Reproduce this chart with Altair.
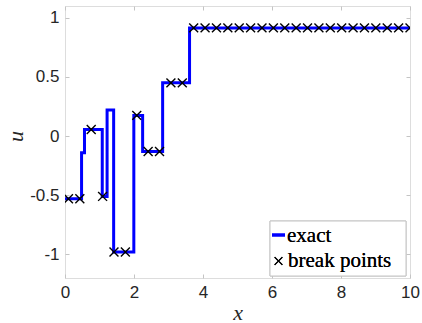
import altair as alt
import pandas as pd

# exact solution: piecewise-constant u(x); each value holds from its x to the next x
step_x = [0.0, 0.48, 0.565, 1.08, 1.22, 1.41, 1.995, 2.25, 2.83, 3.61, 10.0]
step_u = [-0.53, -0.14, 0.055, -0.51, 0.22, -0.98, 0.175, -0.13, 0.45, 0.915, 0.915]

# break points
break_x = [0.10, 0.43, 0.76, 1.09, 1.42, 1.75, 2.08, 2.41, 2.74, 3.07, 3.40,
           3.73, 4.06, 4.39, 4.72, 5.05, 5.38, 5.71, 6.04, 6.37, 6.70, 7.03,
           7.36, 7.69, 8.02, 8.35, 8.68, 9.01, 9.34, 9.67, 10.00]
break_u = [-0.53, -0.53, 0.055, -0.51, -0.98, -0.98, 0.175, -0.13, -0.13, 0.45, 0.45,
           0.915, 0.915, 0.915, 0.915, 0.915, 0.915, 0.915, 0.915, 0.915, 0.915, 0.915,
           0.915, 0.915, 0.915, 0.915, 0.915, 0.915, 0.915, 0.915, 0.915]

x_ticks = [0, 2, 4, 6, 8, 10]
y_ticks = [-1, -0.5, 0, 0.5, 1]
x_domain = [0, 10]
y_domain = [-1.2, 1.1]
legend_labels = ["exact", "break points"]

steps = pd.DataFrame({"x": step_x, "u": step_u})
breaks = pd.DataFrame({"x": break_x, "u": break_u})

W, H = 345, 272
GRAY = "#c4c4c4"
DARK = "#262626"
CROSS = "M-1,-1L1,1M-1,1L1,-1"

xs = alt.Scale(domain=x_domain, nice=False, zero=False)
ys = alt.Scale(domain=y_domain, nice=False, zero=False)

main_x_axis = alt.Axis(values=x_ticks, orient="bottom", ticks=False, domain=False, grid=False,
                       labelFont="Liberation Sans", labelFontSize=17, labelColor=DARK,
                       labelPadding=6, labelFlush=False,
                       title="x", titleFont="Liberation Serif", titleFontStyle="italic",
                       titleFontWeight="normal", titleFontSize=22, titleColor=DARK,
                       titleBaseline="alphabetic", titleY=41, titleX=W / 2)
main_y_axis = alt.Axis(values=y_ticks, orient="left", ticks=False, domain=False, grid=False,
                       labelFont="Liberation Sans", labelFontSize=17, labelColor=DARK,
                       labelPadding=6, labelFlush=False, labelExpr="toString(datum.value)",
                       title="u", titleFont="Liberation Serif", titleFontStyle="italic",
                       titleFontWeight="normal", titleFontSize=22, titleColor=DARK,
                       titleBaseline="alphabetic", titleAngle=270, titleAlign="center",
                       titleX=-43, titleY=130)

line = alt.Chart(steps).mark_line(
    interpolate="step-after", color="#0000ff", strokeWidth=3, clip=True
).encode(
    x=alt.X("x:Q", scale=xs, axis=main_x_axis),
    y=alt.Y("u:Q", scale=ys, axis=main_y_axis),
)

# inward ticks on bottom and left edges
points = alt.Chart(breaks).mark_point(
    shape=CROSS, size=80, filled=False, stroke="black", strokeWidth=1.4, clip=True, opacity=1
).encode(
    x=alt.X("x:Q", scale=xs, axis=alt.Axis(values=x_ticks, orient="top", offset=-H, labels=False,
                                            ticks=True, tickSize=4, tickColor=GRAY, domain=False,
                                            grid=False, title=None)),
    y=alt.Y("u:Q", scale=ys, axis=alt.Axis(values=y_ticks, orient="right", offset=-W, labels=False,
                                            ticks=True, tickSize=4, tickColor=GRAY, domain=False,
                                            grid=False, title=None)),
)

# inward ticks on top and right edges
ghost = alt.Chart(breaks).mark_point(opacity=0).encode(
    x=alt.X("x:Q", scale=xs, axis=alt.Axis(values=x_ticks, orient="bottom", offset=-H, labels=False,
                                            ticks=True, tickSize=4, tickColor=GRAY, domain=False,
                                            grid=False, title=None)),
    y=alt.Y("u:Q", scale=ys, axis=alt.Axis(values=y_ticks, orient="left", offset=-W, labels=False,
                                            ticks=True, tickSize=4, tickColor=GRAY, domain=False,
                                            grid=False, title=None)),
)

# legend
leg_df = pd.DataFrame({"label": legend_labels})
leg_box = alt.Chart(leg_df).mark_rect(fill="white", stroke=GRAY, strokeWidth=1).encode(
    x=alt.value(205), x2=alt.value(341), y=alt.value(215), y2=alt.value(270)
)
leg_line = alt.Chart(leg_df).mark_rule(color="#0000ff", strokeWidth=3).encode(
    x=alt.value(207), x2=alt.value(220), y=alt.value(229)
)
leg_cross = alt.Chart(leg_df).mark_point(
    shape=CROSS, size=60, filled=False, stroke="black", strokeWidth=1.2, opacity=1
).encode(x=alt.value(213.5), y=alt.value(255))
leg_t1 = alt.Chart(leg_df).mark_text(
    align="left", baseline="alphabetic", font="Liberation Serif", fontSize=21, color="black"
).encode(x=alt.value(222), y=alt.value(235.5), text=alt.value(legend_labels[0]))
leg_t2 = alt.Chart(leg_df).mark_text(
    align="left", baseline="alphabetic", font="Liberation Serif", fontSize=21, color="black"
).encode(x=alt.value(223), y=alt.value(260.5), text=alt.value(legend_labels[1]))

chart = alt.layer(
    line, points, ghost, leg_box, leg_line, leg_cross, leg_t1, leg_t2
).resolve_axis(
    x="independent", y="independent"
).properties(
    width=W, height=H,
    autosize=alt.AutoSizeParams(type="none"),
    padding={"left": 65, "top": 6, "right": 12, "bottom": 45},
).configure_view(
    stroke=GRAY, strokeWidth=1
).configure(background="white")

chart.save("out.html", embed_options={"renderer": "svg", "actions": False})
